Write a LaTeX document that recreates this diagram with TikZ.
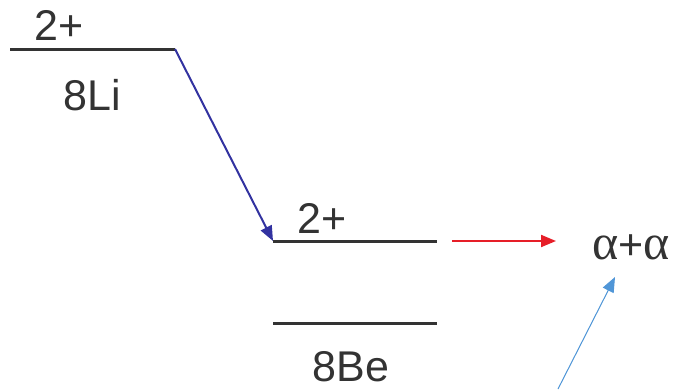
\documentclass[tikz,border=0pt]{standalone}
\usepackage{fontspec}
\setmainfont{Liberation Sans}
\newfontfamily\grk{Liberation Serif}
\usetikzlibrary{arrows.meta}
\definecolor{decayblue}{RGB}{50,50,160}
\definecolor{decayred}{RGB}{230,30,40}
\definecolor{lightarrow}{RGB}{80,150,215}
\begin{document}
\begin{tikzpicture}[x=1pt,y=-1pt,
  level/.style={line width=3pt,draw=black!80},
  lbl/.style={inner sep=0pt,anchor=base,font=\fontsize{43}{50}\selectfont,text=black!80},
  tip/.style={-{Triangle[length=15pt,width=12pt]}}]
\useasboundingbox (0,0) rectangle (677,389);
% levels
\coordinate (liL) at (10,49);
\coordinate (liR) at (175,49);
\coordinate (exL) at (273,241);
\coordinate (exR) at (437,241);
\coordinate (gsL) at (273,323);
\coordinate (gsR) at (437,323);
\draw[level] (liL) -- (liR);
\draw[level] (exL) -- (exR);
\draw[level] (gsL) -- (gsR);
% labels
\node[lbl] (liJ) at (59,40) {2+};
\node[lbl] (liN) at (92,110) {8Li};
\node[lbl] (exJ) at (322,233) {2+};
\node[lbl] (beN) at (351,381) {8Be};
\node[lbl] (aa) at (631,259) {{\grk\fontsize{50}{56}\selectfont α}+{\grk\fontsize{50}{56}\selectfont α}};
% arrows
\draw[tip,line width=2pt,draw=decayblue,fill=decayblue] (liR) -- (exL);
\coordinate (rS) at (452,241);
\coordinate (rE) at (556,241);
\draw[tip,line width=2pt,draw=decayred,fill=decayred] (rS) -- (rE);
\coordinate (bS) at (558,389);
\coordinate (bE) at (615,277);
\draw[tip,line width=1pt,draw=lightarrow,fill=lightarrow] (bS) -- (bE);
\end{tikzpicture}
\end{document}
